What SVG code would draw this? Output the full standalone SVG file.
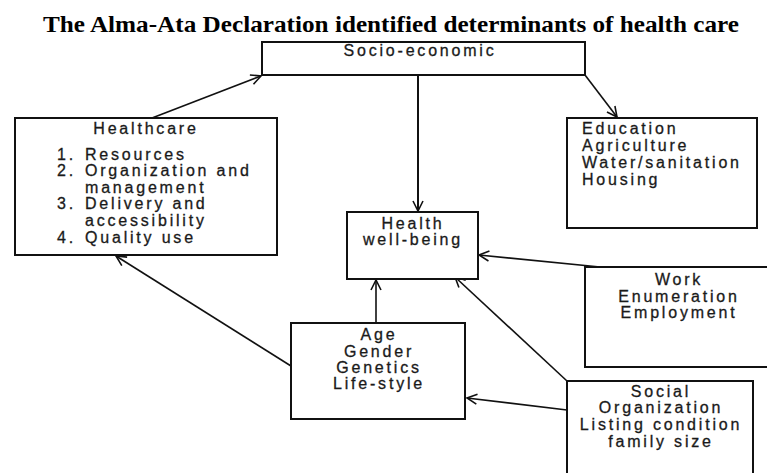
<svg xmlns="http://www.w3.org/2000/svg" width="767" height="473" viewBox="0 0 767 473">
<style>
.box{fill:#fff;stroke:#111;stroke-width:2}
.t{font-family:"Liberation Sans",Arial,sans-serif;font-size:16px;letter-spacing:2.8px;fill:#1a1a1a;stroke:#1a1a1a;stroke-width:0.3}
.c{text-anchor:middle}
.ln{stroke:#111;stroke-width:1.6;fill:none;marker-end:url(#ah)}
.title{font-family:"Liberation Serif","Times New Roman",serif;font-weight:bold;font-size:23px;fill:#000;text-anchor:middle}
</style>
<defs>
<marker id="ah" markerWidth="12" markerHeight="12" refX="11" refY="6" orient="auto" markerUnits="userSpaceOnUse">
<path d="M1,1 L11,6 L1,11" fill="none" stroke="#111" stroke-width="1.6"/>
</marker>
</defs>
<rect width="767" height="473" fill="#fff"/>
<text class="title" x="391" y="32" textLength="696" lengthAdjust="spacingAndGlyphs">The Alma-Ata Declaration identified determinants of health care</text>
<g id="connectors">
<line class="ln" x1="152" y1="118" x2="261" y2="76"/>
<line class="ln" x1="585" y1="75" x2="617" y2="117"/>
<line class="ln" x1="418" y1="75" x2="418" y2="211" style="stroke-width:2"/>
<line class="ln" x1="376" y1="323" x2="376" y2="280"/>
<line class="ln" x1="600" y1="267" x2="479" y2="255"/>
<line class="ln" x1="567" y1="381" x2="455" y2="277"/>
<line class="ln" x1="567" y1="410" x2="467" y2="398"/>
<line class="ln" x1="291" y1="366" x2="116" y2="256"/>
</g>
<g id="socio">
<rect class="box" x="262" y="42" width="323" height="33"/>
<text class="t c" x="420" y="56">Socio-economic</text>
</g>
<g id="healthcare">
<rect class="box" x="15" y="118" width="262" height="137"/>
<text class="t c" x="146" y="134">Healthcare</text>
<text class="t" x="57" y="160">1.</text><text class="t" x="85" y="160">Resources</text>
<text class="t" x="57" y="176">2.</text><text class="t" x="85" y="176">Organization and</text>
<text class="t" x="85" y="193">management</text>
<text class="t" x="57" y="209">3.</text><text class="t" x="85" y="209">Delivery and</text>
<text class="t" x="85" y="226">accessibility</text>
<text class="t" x="57" y="243">4.</text><text class="t" x="85" y="243">Quality use</text>
</g>
<g id="education">
<rect class="box" x="567" y="118" width="190" height="110"/>
<text class="t" x="582" y="134">Education</text>
<text class="t" x="582" y="151">Agriculture</text>
<text class="t" x="582" y="168">Water/sanitation</text>
<text class="t" x="582" y="185">Housing</text>
</g>
<g id="health">
<rect class="box" x="347" y="212" width="131" height="67"/>
<text class="t c" x="413" y="229">Health</text>
<text class="t c" x="413" y="245">well-being</text>
</g>
<g id="work">
<rect class="box" x="585" y="267" width="190" height="100"/>
<text class="t c" x="679" y="285">Work</text>
<text class="t c" x="679" y="302">Enumeration</text>
<text class="t c" x="679" y="318">Employment</text>
</g>
<g id="age">
<rect class="box" x="291" y="323" width="174" height="96"/>
<text class="t c" x="379" y="340">Age</text>
<text class="t c" x="379" y="357">Gender</text>
<text class="t c" x="379" y="373">Genetics</text>
<text class="t c" x="379" y="389">Life-style</text>
</g>
<g id="social">
<rect class="box" x="567" y="381" width="186" height="100"/>
<text class="t c" x="661" y="397">Social</text>
<text class="t c" x="661" y="413">Organization</text>
<text class="t c" x="661" y="430">Listing condition</text>
<text class="t c" x="661" y="447">family size</text>
</g>
</svg>
